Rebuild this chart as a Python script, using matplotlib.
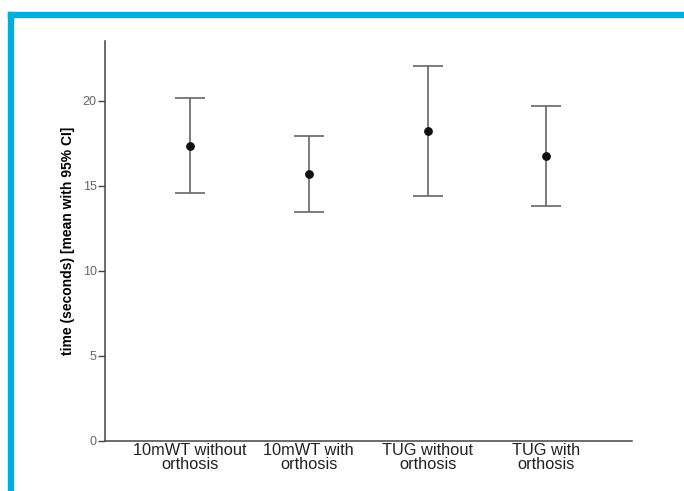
import matplotlib
matplotlib.use("Agg")
import matplotlib.pyplot as plt
from matplotlib.patches import Rectangle

# data
categories = ["10mWT without\northosis", "10mWT with\northosis", "TUG without\northosis", "TUG with\northosis"]
means = [17.35, 15.67, 18.22, 16.75]
ci_low = [14.55, 13.44, 14.38, 13.82]
ci_high = [20.14, 17.92, 22.04, 19.65]
yticks = [0, 5, 10, 15, 20]

plt.rcParams["font.family"] = ["Liberation Sans", "DejaVu Sans"]

fig = plt.figure(figsize=(6.84, 4.91), dpi=100)
ax = fig.add_axes([0.1535, 0.1024, 0.7705, 0.8141])

x = list(range(len(categories)))
lower = [m - lo for m, lo in zip(means, ci_low)]
upper = [hi - m for m, hi in zip(means, ci_high)]
ax.errorbar(x, means, yerr=[lower, upper], fmt="o", color="#111111", markersize=5.3,
            ecolor="#666666", elinewidth=1.2, capsize=10.5, capthick=1.2)

ax.set_xlim(-0.716, 3.72)
ax.set_ylim(0, 23.5)
ax.set_yticks(yticks)
ax.set_xticks(x)
ax.set_xticklabels(categories, fontsize=11.8, linespacing=0.88, color="#222222")
ax.tick_params(axis="x", length=0, pad=2)
ax.tick_params(axis="y", length=5, width=1, color="#444444", labelsize=9,
               labelcolor="#666666", pad=1)
ax.set_ylabel("time (seconds) [mean with 95% CI]", fontsize=10, fontweight="bold")
ax.yaxis.set_label_coords(-0.056, 0.5)

for side in ["top", "right"]:
    ax.spines[side].set_visible(False)
for side in ["left", "bottom"]:
    ax.spines[side].set_color("#444444")
    ax.spines[side].set_linewidth(1.1)

# cyan frame on top and left
cyan = "#00AEDB"
fig.patches.append(Rectangle((8 / 684, 1 - 17 / 491), 1, 5 / 491, transform=fig.transFigure,
                             color=cyan, zorder=0))
fig.patches.append(Rectangle((8 / 684, 0), 5 / 684, 1 - 12 / 491, transform=fig.transFigure,
                             color=cyan, zorder=0))

fig.savefig("out.png", dpi=100)
plt.close(fig)
